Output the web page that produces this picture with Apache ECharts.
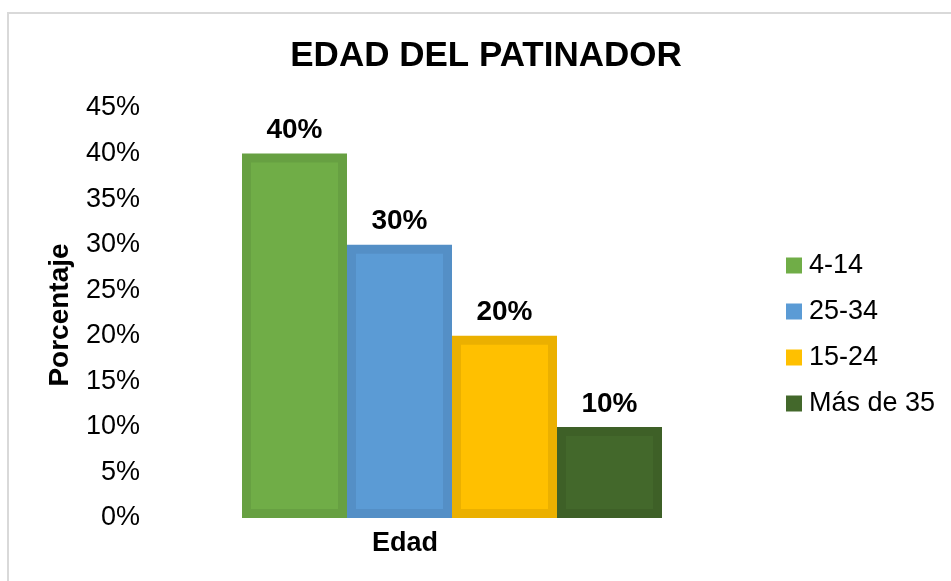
<!DOCTYPE html>
<html>
<head>
<meta charset="utf-8">
<script src="https://cdn.jsdelivr.net/npm/echarts@6/dist/echarts.min.js"></script>
<style>
  html, body { margin: 0; padding: 0; background: #fff; }
  #chart { width: 951px; height: 581px; }
</style>
</head>
<body>
<div id="chart"></div>
<script>
// ---- data ----
const categories = ['Edad'];
const seriesNames = ['4-14', '25-34', '15-24', 'Más de 35'];
const seriesValues = [0.40, 0.30, 0.20, 0.10];
const yTickStep = 0.05;
const yMax = 0.45;
const titleText = 'EDAD DEL PATINADOR';
const yAxisTitle = 'Porcentaje';
const xAxisTitle = 'Edad';

// ---- styles ----
const fillColors = ['#70ad47', '#5b9bd5', '#ffc000', '#43682b'];
const edgeColors = ['#67a042', '#548fc6', '#ebb000', '#3e6027'];
const FONT = '"Liberation Sans", Arial, sans-serif';
const BAR_W = 105;
const INSET = 9;

const chart = echarts.init(document.getElementById('chart'));

function renderBar(params, api) {
  const i = params.seriesIndex;
  const n = seriesNames.length;
  const top = api.coord([api.value(0), api.value(1)]);
  const base = api.coord([api.value(0), 0]);
  const x0 = top[0] - BAR_W * n / 2 + i * BAR_W;
  const h = base[1] - top[1];
  return {
    type: 'group',
    children: [
      { type: 'rect', shape: { x: x0, y: top[1], width: BAR_W, height: h }, style: { fill: edgeColors[i] } },
      { type: 'rect', shape: { x: x0 + INSET, y: top[1] + INSET, width: BAR_W - 2 * INSET, height: Math.max(0, h - 2 * INSET) }, style: { fill: fillColors[i] } },
      { type: 'text', x: x0 + BAR_W / 2, y: top[1] - 9,
        style: { text: Math.round(api.value(1) * 100) + '%', textAlign: 'center', textVerticalAlign: 'bottom',
                 font: 'bold 28px ' + FONT, fill: '#000' } }
    ]
  };
}

const series = seriesNames.map((name, i) => ({
  type: 'custom',
  name: name,
  renderItem: renderBar,
  itemStyle: { color: fillColors[i] },
  encode: { x: 0, y: 1 },
  data: [[0, seriesValues[i]]]
}));

chart.setOption({
  animation: false,
  backgroundColor: '#fff',
  grid: { left: 150, right: 197, top: 108, bottom: 63, containLabel: false },
  xAxis: {
    type: 'category',
    data: categories,
    axisLine: { show: false },
    axisTick: { show: false },
    axisLabel: { show: false },
    splitLine: { show: false }
  },
  yAxis: {
    type: 'value',
    min: 0,
    max: yMax,
    interval: yTickStep,
    axisLine: { show: false },
    axisTick: { show: false },
    splitLine: { show: false },
    axisLabel: {
      margin: 10,
      color: '#000',
      fontSize: 27,
      fontFamily: FONT,
      formatter: v => Math.round(v * 100) + '%'
    }
  },
  legend: {
    orient: 'vertical',
    left: 781,
    top: 247,
    itemWidth: 16,
    itemHeight: 16,
    itemGap: 19,
    icon: 'rect',
    textStyle: { color: '#000', fontSize: 27, fontFamily: FONT, padding: [0, 0, 0, 2] },
    data: seriesNames
  },
  graphic: [
    { type: 'rect', shape: { x: 8, y: 13, width: 1000, height: 1000 }, style: { fill: 'none', stroke: '#d9d9d9', lineWidth: 2 }, silent: true, z: -1 },
    { type: 'text', x: 486, y: 56, style: { text: titleText, textAlign: 'center', textVerticalAlign: 'middle', font: 'bold 35px ' + FONT, fill: '#000' } },
    { type: 'text', x: 60, y: 315, rotation: Math.PI / 2, style: { text: yAxisTitle, textAlign: 'center', textVerticalAlign: 'middle', font: 'bold 28px ' + FONT, fill: '#000' } },
    { type: 'text', x: 405, y: 544, style: { text: xAxisTitle, textAlign: 'center', textVerticalAlign: 'middle', font: 'bold 27px ' + FONT, fill: '#000' } }
  ],
  series: series
});
</script>
</body>
</html>
